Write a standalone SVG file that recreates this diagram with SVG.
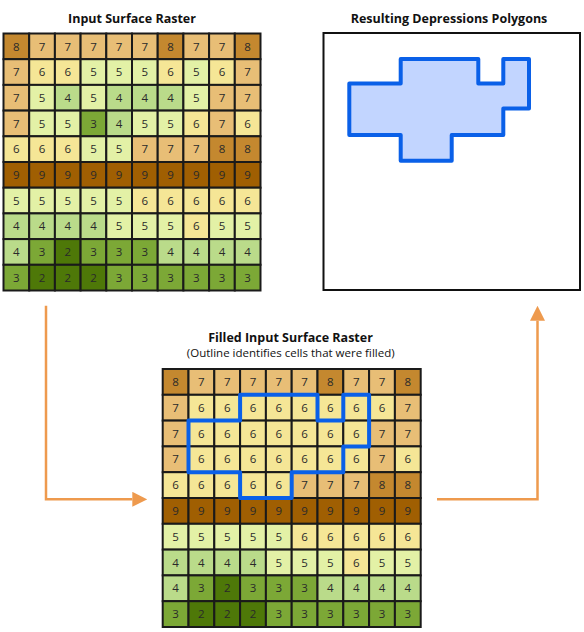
<svg xmlns="http://www.w3.org/2000/svg" width="584" height="632" viewBox="0 0 584 632">
<style>
.c9{fill:#A05F02}.c8{fill:#C4882F}.c7{fill:#E8BE76}.c6{fill:#F5E696}.c5{fill:#E3F1A6}.c4{fill:#BADB8A}.c3{fill:#7CA836}.c2{fill:#4E7808}
.grid rect{stroke:#1a1a1a;stroke-width:2}
.grid text{font-family:"Open Sans","Noto Sans",sans-serif;font-size:11.5px;fill:#2a2a2a;text-anchor:middle}
.title{font-family:"Open Sans","Noto Sans",sans-serif;font-size:12.5px;font-weight:bold;fill:#111;text-anchor:middle}
.sub{font-family:"Open Sans","Noto Sans",sans-serif;font-size:11.5px;fill:#111;text-anchor:middle}
.outline{fill:none;stroke:#0A60E8;stroke-width:4;stroke-linejoin:round}
.poly{fill:#C2D5FF;stroke:#0A60E8;stroke-width:4;stroke-linejoin:round}
.conn{fill:none;stroke:#EE9A4E;stroke-width:2.5}
</style>
<defs>
<marker id="ah" markerUnits="userSpaceOnUse" markerWidth="15" markerHeight="15" refX="0" refY="7.5" orient="auto">
<path d="M0,0 L15,7.5 L0,15 Z" fill="#EE9A4E"/>
</marker>
</defs>
<rect x="0" y="0" width="584" height="632" fill="#ffffff"/>

<g id="input-raster">
<text class="title" x="132" y="22.5">Input Surface Raster</text>
<g class="grid" transform="translate(3.5,33.5)">
<g transform="translate(0,0)">
<rect x="0" y="0" width="25.7" height="25.7" class="c8"/><rect x="25.7" y="0" width="25.7" height="25.7" class="c7"/><rect x="51.4" y="0" width="25.7" height="25.7" class="c7"/><rect x="77.1" y="0" width="25.7" height="25.7" class="c7"/><rect x="102.8" y="0" width="25.7" height="25.7" class="c7"/><rect x="128.5" y="0" width="25.7" height="25.7" class="c7"/><rect x="154.2" y="0" width="25.7" height="25.7" class="c8"/><rect x="179.9" y="0" width="25.7" height="25.7" class="c7"/><rect x="205.6" y="0" width="25.7" height="25.7" class="c7"/><rect x="231.3" y="0" width="25.7" height="25.7" class="c8"/>
<text x="12.85" y="17">8</text><text x="38.55" y="17">7</text><text x="64.25" y="17">7</text><text x="89.95" y="17">7</text><text x="115.65" y="17">7</text><text x="141.35" y="17">7</text><text x="167.05" y="17">8</text><text x="192.75" y="17">7</text><text x="218.45" y="17">7</text><text x="244.15" y="17">8</text>
</g>
<g transform="translate(0,25.7)">
<rect x="0" y="0" width="25.7" height="25.7" class="c7"/><rect x="25.7" y="0" width="25.7" height="25.7" class="c6"/><rect x="51.4" y="0" width="25.7" height="25.7" class="c6"/><rect x="77.1" y="0" width="25.7" height="25.7" class="c5"/><rect x="102.8" y="0" width="25.7" height="25.7" class="c5"/><rect x="128.5" y="0" width="25.7" height="25.7" class="c5"/><rect x="154.2" y="0" width="25.7" height="25.7" class="c6"/><rect x="179.9" y="0" width="25.7" height="25.7" class="c5"/><rect x="205.6" y="0" width="25.7" height="25.7" class="c6"/><rect x="231.3" y="0" width="25.7" height="25.7" class="c7"/>
<text x="12.85" y="17">7</text><text x="38.55" y="17">6</text><text x="64.25" y="17">6</text><text x="89.95" y="17">5</text><text x="115.65" y="17">5</text><text x="141.35" y="17">5</text><text x="167.05" y="17">6</text><text x="192.75" y="17">5</text><text x="218.45" y="17">6</text><text x="244.15" y="17">7</text>
</g>
<g transform="translate(0,51.4)">
<rect x="0" y="0" width="25.7" height="25.7" class="c7"/><rect x="25.7" y="0" width="25.7" height="25.7" class="c5"/><rect x="51.4" y="0" width="25.7" height="25.7" class="c4"/><rect x="77.1" y="0" width="25.7" height="25.7" class="c5"/><rect x="102.8" y="0" width="25.7" height="25.7" class="c4"/><rect x="128.5" y="0" width="25.7" height="25.7" class="c4"/><rect x="154.2" y="0" width="25.7" height="25.7" class="c4"/><rect x="179.9" y="0" width="25.7" height="25.7" class="c5"/><rect x="205.6" y="0" width="25.7" height="25.7" class="c7"/><rect x="231.3" y="0" width="25.7" height="25.7" class="c7"/>
<text x="12.85" y="17">7</text><text x="38.55" y="17">5</text><text x="64.25" y="17">4</text><text x="89.95" y="17">5</text><text x="115.65" y="17">4</text><text x="141.35" y="17">4</text><text x="167.05" y="17">4</text><text x="192.75" y="17">5</text><text x="218.45" y="17">7</text><text x="244.15" y="17">7</text>
</g>
<g transform="translate(0,77.1)">
<rect x="0" y="0" width="25.7" height="25.7" class="c7"/><rect x="25.7" y="0" width="25.7" height="25.7" class="c5"/><rect x="51.4" y="0" width="25.7" height="25.7" class="c5"/><rect x="77.1" y="0" width="25.7" height="25.7" class="c3"/><rect x="102.8" y="0" width="25.7" height="25.7" class="c4"/><rect x="128.5" y="0" width="25.7" height="25.7" class="c5"/><rect x="154.2" y="0" width="25.7" height="25.7" class="c5"/><rect x="179.9" y="0" width="25.7" height="25.7" class="c6"/><rect x="205.6" y="0" width="25.7" height="25.7" class="c7"/><rect x="231.3" y="0" width="25.7" height="25.7" class="c6"/>
<text x="12.85" y="17">7</text><text x="38.55" y="17">5</text><text x="64.25" y="17">5</text><text x="89.95" y="17">3</text><text x="115.65" y="17">4</text><text x="141.35" y="17">5</text><text x="167.05" y="17">5</text><text x="192.75" y="17">6</text><text x="218.45" y="17">7</text><text x="244.15" y="17">6</text>
</g>
<g transform="translate(0,102.8)">
<rect x="0" y="0" width="25.7" height="25.7" class="c6"/><rect x="25.7" y="0" width="25.7" height="25.7" class="c6"/><rect x="51.4" y="0" width="25.7" height="25.7" class="c6"/><rect x="77.1" y="0" width="25.7" height="25.7" class="c5"/><rect x="102.8" y="0" width="25.7" height="25.7" class="c5"/><rect x="128.5" y="0" width="25.7" height="25.7" class="c7"/><rect x="154.2" y="0" width="25.7" height="25.7" class="c7"/><rect x="179.9" y="0" width="25.7" height="25.7" class="c7"/><rect x="205.6" y="0" width="25.7" height="25.7" class="c8"/><rect x="231.3" y="0" width="25.7" height="25.7" class="c8"/>
<text x="12.85" y="17">6</text><text x="38.55" y="17">6</text><text x="64.25" y="17">6</text><text x="89.95" y="17">5</text><text x="115.65" y="17">5</text><text x="141.35" y="17">7</text><text x="167.05" y="17">7</text><text x="192.75" y="17">7</text><text x="218.45" y="17">8</text><text x="244.15" y="17">8</text>
</g>
<g transform="translate(0,128.5)">
<rect x="0" y="0" width="25.7" height="25.7" class="c9"/><rect x="25.7" y="0" width="25.7" height="25.7" class="c9"/><rect x="51.4" y="0" width="25.7" height="25.7" class="c9"/><rect x="77.1" y="0" width="25.7" height="25.7" class="c9"/><rect x="102.8" y="0" width="25.7" height="25.7" class="c9"/><rect x="128.5" y="0" width="25.7" height="25.7" class="c9"/><rect x="154.2" y="0" width="25.7" height="25.7" class="c9"/><rect x="179.9" y="0" width="25.7" height="25.7" class="c9"/><rect x="205.6" y="0" width="25.7" height="25.7" class="c9"/><rect x="231.3" y="0" width="25.7" height="25.7" class="c9"/>
<text x="12.85" y="17">9</text><text x="38.55" y="17">9</text><text x="64.25" y="17">9</text><text x="89.95" y="17">9</text><text x="115.65" y="17">9</text><text x="141.35" y="17">9</text><text x="167.05" y="17">9</text><text x="192.75" y="17">9</text><text x="218.45" y="17">9</text><text x="244.15" y="17">9</text>
</g>
<g transform="translate(0,154.2)">
<rect x="0" y="0" width="25.7" height="25.7" class="c5"/><rect x="25.7" y="0" width="25.7" height="25.7" class="c5"/><rect x="51.4" y="0" width="25.7" height="25.7" class="c5"/><rect x="77.1" y="0" width="25.7" height="25.7" class="c5"/><rect x="102.8" y="0" width="25.7" height="25.7" class="c5"/><rect x="128.5" y="0" width="25.7" height="25.7" class="c6"/><rect x="154.2" y="0" width="25.7" height="25.7" class="c6"/><rect x="179.9" y="0" width="25.7" height="25.7" class="c6"/><rect x="205.6" y="0" width="25.7" height="25.7" class="c6"/><rect x="231.3" y="0" width="25.7" height="25.7" class="c6"/>
<text x="12.85" y="17">5</text><text x="38.55" y="17">5</text><text x="64.25" y="17">5</text><text x="89.95" y="17">5</text><text x="115.65" y="17">5</text><text x="141.35" y="17">6</text><text x="167.05" y="17">6</text><text x="192.75" y="17">6</text><text x="218.45" y="17">6</text><text x="244.15" y="17">6</text>
</g>
<g transform="translate(0,179.9)">
<rect x="0" y="0" width="25.7" height="25.7" class="c4"/><rect x="25.7" y="0" width="25.7" height="25.7" class="c4"/><rect x="51.4" y="0" width="25.7" height="25.7" class="c4"/><rect x="77.1" y="0" width="25.7" height="25.7" class="c4"/><rect x="102.8" y="0" width="25.7" height="25.7" class="c5"/><rect x="128.5" y="0" width="25.7" height="25.7" class="c5"/><rect x="154.2" y="0" width="25.7" height="25.7" class="c5"/><rect x="179.9" y="0" width="25.7" height="25.7" class="c6"/><rect x="205.6" y="0" width="25.7" height="25.7" class="c5"/><rect x="231.3" y="0" width="25.7" height="25.7" class="c5"/>
<text x="12.85" y="17">4</text><text x="38.55" y="17">4</text><text x="64.25" y="17">4</text><text x="89.95" y="17">4</text><text x="115.65" y="17">5</text><text x="141.35" y="17">5</text><text x="167.05" y="17">5</text><text x="192.75" y="17">6</text><text x="218.45" y="17">5</text><text x="244.15" y="17">5</text>
</g>
<g transform="translate(0,205.6)">
<rect x="0" y="0" width="25.7" height="25.7" class="c4"/><rect x="25.7" y="0" width="25.7" height="25.7" class="c3"/><rect x="51.4" y="0" width="25.7" height="25.7" class="c2"/><rect x="77.1" y="0" width="25.7" height="25.7" class="c3"/><rect x="102.8" y="0" width="25.7" height="25.7" class="c3"/><rect x="128.5" y="0" width="25.7" height="25.7" class="c3"/><rect x="154.2" y="0" width="25.7" height="25.7" class="c4"/><rect x="179.9" y="0" width="25.7" height="25.7" class="c4"/><rect x="205.6" y="0" width="25.7" height="25.7" class="c4"/><rect x="231.3" y="0" width="25.7" height="25.7" class="c4"/>
<text x="12.85" y="17">4</text><text x="38.55" y="17">3</text><text x="64.25" y="17">2</text><text x="89.95" y="17">3</text><text x="115.65" y="17">3</text><text x="141.35" y="17">3</text><text x="167.05" y="17">4</text><text x="192.75" y="17">4</text><text x="218.45" y="17">4</text><text x="244.15" y="17">4</text>
</g>
<g transform="translate(0,231.3)">
<rect x="0" y="0" width="25.7" height="25.7" class="c3"/><rect x="25.7" y="0" width="25.7" height="25.7" class="c2"/><rect x="51.4" y="0" width="25.7" height="25.7" class="c2"/><rect x="77.1" y="0" width="25.7" height="25.7" class="c2"/><rect x="102.8" y="0" width="25.7" height="25.7" class="c3"/><rect x="128.5" y="0" width="25.7" height="25.7" class="c3"/><rect x="154.2" y="0" width="25.7" height="25.7" class="c3"/><rect x="179.9" y="0" width="25.7" height="25.7" class="c3"/><rect x="205.6" y="0" width="25.7" height="25.7" class="c3"/><rect x="231.3" y="0" width="25.7" height="25.7" class="c3"/>
<text x="12.85" y="17">3</text><text x="38.55" y="17">2</text><text x="64.25" y="17">2</text><text x="89.95" y="17">2</text><text x="115.65" y="17">3</text><text x="141.35" y="17">3</text><text x="167.05" y="17">3</text><text x="192.75" y="17">3</text><text x="218.45" y="17">3</text><text x="244.15" y="17">3</text>
</g>
</g>
</g>

<g id="depression-polygons">
<text class="title" x="449" y="22.5">Resulting Depressions Polygons</text>
<rect x="323.5" y="33" width="256.5" height="257" fill="#ffffff" stroke="#111" stroke-width="2"/>
<path class="poly" d="M400.7,59 H478.3 V83.5 H503.3 V59 H529 V108.5 H503.3 V135 H451.7 V160.7 H400.7 V135 H349.3 V83.5 H400.7 Z"/>
</g>

<g id="filled-raster">
<text class="title" x="290.5" y="341.5">Filled Input Surface Raster</text>
<text class="sub" x="290.7" y="356.5">(Outline identifies cells that were filled)</text>
<g class="grid" transform="translate(162.7,369)">
<g transform="translate(0,0)">
<rect x="0" y="0" width="25.8" height="25.8" class="c8"/><rect x="25.8" y="0" width="25.8" height="25.8" class="c7"/><rect x="51.6" y="0" width="25.8" height="25.8" class="c7"/><rect x="77.4" y="0" width="25.8" height="25.8" class="c7"/><rect x="103.2" y="0" width="25.8" height="25.8" class="c7"/><rect x="129" y="0" width="25.8" height="25.8" class="c7"/><rect x="154.8" y="0" width="25.8" height="25.8" class="c8"/><rect x="180.6" y="0" width="25.8" height="25.8" class="c7"/><rect x="206.4" y="0" width="25.8" height="25.8" class="c7"/><rect x="232.2" y="0" width="25.8" height="25.8" class="c8"/>
<text x="12.9" y="17.1">8</text><text x="38.7" y="17.1">7</text><text x="64.5" y="17.1">7</text><text x="90.3" y="17.1">7</text><text x="116.1" y="17.1">7</text><text x="141.9" y="17.1">7</text><text x="167.7" y="17.1">8</text><text x="193.5" y="17.1">7</text><text x="219.3" y="17.1">7</text><text x="245.1" y="17.1">8</text>
</g>
<g transform="translate(0,25.8)">
<rect x="0" y="0" width="25.8" height="25.8" class="c7"/><rect x="25.8" y="0" width="25.8" height="25.8" class="c6"/><rect x="51.6" y="0" width="25.8" height="25.8" class="c6"/><rect x="77.4" y="0" width="25.8" height="25.8" class="c6"/><rect x="103.2" y="0" width="25.8" height="25.8" class="c6"/><rect x="129" y="0" width="25.8" height="25.8" class="c6"/><rect x="154.8" y="0" width="25.8" height="25.8" class="c6"/><rect x="180.6" y="0" width="25.8" height="25.8" class="c6"/><rect x="206.4" y="0" width="25.8" height="25.8" class="c6"/><rect x="232.2" y="0" width="25.8" height="25.8" class="c7"/>
<text x="12.9" y="17.1">7</text><text x="38.7" y="17.1">6</text><text x="64.5" y="17.1">6</text><text x="90.3" y="17.1">6</text><text x="116.1" y="17.1">6</text><text x="141.9" y="17.1">6</text><text x="167.7" y="17.1">6</text><text x="193.5" y="17.1">6</text><text x="219.3" y="17.1">6</text><text x="245.1" y="17.1">7</text>
</g>
<g transform="translate(0,51.6)">
<rect x="0" y="0" width="25.8" height="25.8" class="c7"/><rect x="25.8" y="0" width="25.8" height="25.8" class="c6"/><rect x="51.6" y="0" width="25.8" height="25.8" class="c6"/><rect x="77.4" y="0" width="25.8" height="25.8" class="c6"/><rect x="103.2" y="0" width="25.8" height="25.8" class="c6"/><rect x="129" y="0" width="25.8" height="25.8" class="c6"/><rect x="154.8" y="0" width="25.8" height="25.8" class="c6"/><rect x="180.6" y="0" width="25.8" height="25.8" class="c6"/><rect x="206.4" y="0" width="25.8" height="25.8" class="c7"/><rect x="232.2" y="0" width="25.8" height="25.8" class="c7"/>
<text x="12.9" y="17.1">7</text><text x="38.7" y="17.1">6</text><text x="64.5" y="17.1">6</text><text x="90.3" y="17.1">6</text><text x="116.1" y="17.1">6</text><text x="141.9" y="17.1">6</text><text x="167.7" y="17.1">6</text><text x="193.5" y="17.1">6</text><text x="219.3" y="17.1">7</text><text x="245.1" y="17.1">7</text>
</g>
<g transform="translate(0,77.4)">
<rect x="0" y="0" width="25.8" height="25.8" class="c7"/><rect x="25.8" y="0" width="25.8" height="25.8" class="c6"/><rect x="51.6" y="0" width="25.8" height="25.8" class="c6"/><rect x="77.4" y="0" width="25.8" height="25.8" class="c6"/><rect x="103.2" y="0" width="25.8" height="25.8" class="c6"/><rect x="129" y="0" width="25.8" height="25.8" class="c6"/><rect x="154.8" y="0" width="25.8" height="25.8" class="c6"/><rect x="180.6" y="0" width="25.8" height="25.8" class="c6"/><rect x="206.4" y="0" width="25.8" height="25.8" class="c7"/><rect x="232.2" y="0" width="25.8" height="25.8" class="c6"/>
<text x="12.9" y="17.1">7</text><text x="38.7" y="17.1">6</text><text x="64.5" y="17.1">6</text><text x="90.3" y="17.1">6</text><text x="116.1" y="17.1">6</text><text x="141.9" y="17.1">6</text><text x="167.7" y="17.1">6</text><text x="193.5" y="17.1">6</text><text x="219.3" y="17.1">7</text><text x="245.1" y="17.1">6</text>
</g>
<g transform="translate(0,103.2)">
<rect x="0" y="0" width="25.8" height="25.8" class="c6"/><rect x="25.8" y="0" width="25.8" height="25.8" class="c6"/><rect x="51.6" y="0" width="25.8" height="25.8" class="c6"/><rect x="77.4" y="0" width="25.8" height="25.8" class="c6"/><rect x="103.2" y="0" width="25.8" height="25.8" class="c6"/><rect x="129" y="0" width="25.8" height="25.8" class="c7"/><rect x="154.8" y="0" width="25.8" height="25.8" class="c7"/><rect x="180.6" y="0" width="25.8" height="25.8" class="c7"/><rect x="206.4" y="0" width="25.8" height="25.8" class="c8"/><rect x="232.2" y="0" width="25.8" height="25.8" class="c8"/>
<text x="12.9" y="17.1">6</text><text x="38.7" y="17.1">6</text><text x="64.5" y="17.1">6</text><text x="90.3" y="17.1">6</text><text x="116.1" y="17.1">6</text><text x="141.9" y="17.1">7</text><text x="167.7" y="17.1">7</text><text x="193.5" y="17.1">7</text><text x="219.3" y="17.1">8</text><text x="245.1" y="17.1">8</text>
</g>
<g transform="translate(0,129)">
<rect x="0" y="0" width="25.8" height="25.8" class="c9"/><rect x="25.8" y="0" width="25.8" height="25.8" class="c9"/><rect x="51.6" y="0" width="25.8" height="25.8" class="c9"/><rect x="77.4" y="0" width="25.8" height="25.8" class="c9"/><rect x="103.2" y="0" width="25.8" height="25.8" class="c9"/><rect x="129" y="0" width="25.8" height="25.8" class="c9"/><rect x="154.8" y="0" width="25.8" height="25.8" class="c9"/><rect x="180.6" y="0" width="25.8" height="25.8" class="c9"/><rect x="206.4" y="0" width="25.8" height="25.8" class="c9"/><rect x="232.2" y="0" width="25.8" height="25.8" class="c9"/>
<text x="12.9" y="17.1">9</text><text x="38.7" y="17.1">9</text><text x="64.5" y="17.1">9</text><text x="90.3" y="17.1">9</text><text x="116.1" y="17.1">9</text><text x="141.9" y="17.1">9</text><text x="167.7" y="17.1">9</text><text x="193.5" y="17.1">9</text><text x="219.3" y="17.1">9</text><text x="245.1" y="17.1">9</text>
</g>
<g transform="translate(0,154.8)">
<rect x="0" y="0" width="25.8" height="25.8" class="c5"/><rect x="25.8" y="0" width="25.8" height="25.8" class="c5"/><rect x="51.6" y="0" width="25.8" height="25.8" class="c5"/><rect x="77.4" y="0" width="25.8" height="25.8" class="c5"/><rect x="103.2" y="0" width="25.8" height="25.8" class="c5"/><rect x="129" y="0" width="25.8" height="25.8" class="c6"/><rect x="154.8" y="0" width="25.8" height="25.8" class="c6"/><rect x="180.6" y="0" width="25.8" height="25.8" class="c6"/><rect x="206.4" y="0" width="25.8" height="25.8" class="c6"/><rect x="232.2" y="0" width="25.8" height="25.8" class="c6"/>
<text x="12.9" y="17.1">5</text><text x="38.7" y="17.1">5</text><text x="64.5" y="17.1">5</text><text x="90.3" y="17.1">5</text><text x="116.1" y="17.1">5</text><text x="141.9" y="17.1">6</text><text x="167.7" y="17.1">6</text><text x="193.5" y="17.1">6</text><text x="219.3" y="17.1">6</text><text x="245.1" y="17.1">6</text>
</g>
<g transform="translate(0,180.6)">
<rect x="0" y="0" width="25.8" height="25.8" class="c4"/><rect x="25.8" y="0" width="25.8" height="25.8" class="c4"/><rect x="51.6" y="0" width="25.8" height="25.8" class="c4"/><rect x="77.4" y="0" width="25.8" height="25.8" class="c4"/><rect x="103.2" y="0" width="25.8" height="25.8" class="c5"/><rect x="129" y="0" width="25.8" height="25.8" class="c5"/><rect x="154.8" y="0" width="25.8" height="25.8" class="c5"/><rect x="180.6" y="0" width="25.8" height="25.8" class="c6"/><rect x="206.4" y="0" width="25.8" height="25.8" class="c5"/><rect x="232.2" y="0" width="25.8" height="25.8" class="c5"/>
<text x="12.9" y="17.1">4</text><text x="38.7" y="17.1">4</text><text x="64.5" y="17.1">4</text><text x="90.3" y="17.1">4</text><text x="116.1" y="17.1">5</text><text x="141.9" y="17.1">5</text><text x="167.7" y="17.1">5</text><text x="193.5" y="17.1">6</text><text x="219.3" y="17.1">5</text><text x="245.1" y="17.1">5</text>
</g>
<g transform="translate(0,206.4)">
<rect x="0" y="0" width="25.8" height="25.8" class="c4"/><rect x="25.8" y="0" width="25.8" height="25.8" class="c3"/><rect x="51.6" y="0" width="25.8" height="25.8" class="c2"/><rect x="77.4" y="0" width="25.8" height="25.8" class="c3"/><rect x="103.2" y="0" width="25.8" height="25.8" class="c3"/><rect x="129" y="0" width="25.8" height="25.8" class="c3"/><rect x="154.8" y="0" width="25.8" height="25.8" class="c4"/><rect x="180.6" y="0" width="25.8" height="25.8" class="c4"/><rect x="206.4" y="0" width="25.8" height="25.8" class="c4"/><rect x="232.2" y="0" width="25.8" height="25.8" class="c4"/>
<text x="12.9" y="17.1">4</text><text x="38.7" y="17.1">3</text><text x="64.5" y="17.1">2</text><text x="90.3" y="17.1">3</text><text x="116.1" y="17.1">3</text><text x="141.9" y="17.1">3</text><text x="167.7" y="17.1">4</text><text x="193.5" y="17.1">4</text><text x="219.3" y="17.1">4</text><text x="245.1" y="17.1">4</text>
</g>
<g transform="translate(0,232.2)">
<rect x="0" y="0" width="25.8" height="25.8" class="c3"/><rect x="25.8" y="0" width="25.8" height="25.8" class="c2"/><rect x="51.6" y="0" width="25.8" height="25.8" class="c2"/><rect x="77.4" y="0" width="25.8" height="25.8" class="c2"/><rect x="103.2" y="0" width="25.8" height="25.8" class="c3"/><rect x="129" y="0" width="25.8" height="25.8" class="c3"/><rect x="154.8" y="0" width="25.8" height="25.8" class="c3"/><rect x="180.6" y="0" width="25.8" height="25.8" class="c3"/><rect x="206.4" y="0" width="25.8" height="25.8" class="c3"/><rect x="232.2" y="0" width="25.8" height="25.8" class="c3"/>
<text x="12.9" y="17.1">3</text><text x="38.7" y="17.1">2</text><text x="64.5" y="17.1">2</text><text x="90.3" y="17.1">2</text><text x="116.1" y="17.1">3</text><text x="141.9" y="17.1">3</text><text x="167.7" y="17.1">3</text><text x="193.5" y="17.1">3</text><text x="219.3" y="17.1">3</text><text x="245.1" y="17.1">3</text>
</g>
</g>
<path class="outline" d="M240.1,394.8 H317.5 V420.6 H343.3 V394.8 H369.1 V446.4 H343.3 V472.2 H291.7 V498 H240.1 V472.2 H188.5 V420.6 H240.1 Z"/>
</g>

<g id="connectors">
<path class="conn" d="M46,305.7 V499.3 H132.3" marker-end="url(#ah)"/>
<path class="conn" d="M437,499.3 H537.5 V320.7" marker-end="url(#ah)"/>
</g>
</svg>
